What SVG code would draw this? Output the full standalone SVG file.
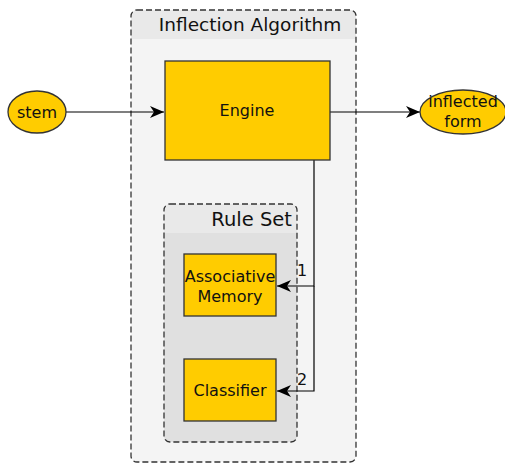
<svg xmlns="http://www.w3.org/2000/svg" width="505" height="463" viewBox="0 0 505 463">
  <style>
    .t { font-family: "DejaVu Sans", sans-serif; fill: #111; text-anchor: middle; }
    .node { fill: #ffcc00; stroke: #333; stroke-width: 1.3; }
    .edge { fill: none; stroke: #000; stroke-width: 1.2; }
    .cl { fill: none; stroke: #333; stroke-width: 1.3; stroke-dasharray: 6 3; }
  </style>
  <defs>
    <marker id="arr" markerWidth="16" markerHeight="12" refX="14" refY="6" orient="auto" markerUnits="userSpaceOnUse">
      <path d="M0,0 L14,6 L0,12 L4,6 Z" fill="#000"/>
    </marker>
    <clipPath id="outerClip"><rect x="131" y="10" width="225" height="452" rx="6"/></clipPath>
    <clipPath id="ruleClip"><rect x="164" y="204" width="133" height="238" rx="6"/></clipPath>
  </defs>

  <!-- cluster: Inflection Algorithm -->
  <g id="cluster-inflection">
    <g clip-path="url(#outerClip)">
      <rect x="131" y="10" width="225" height="452" fill="#f4f4f4"/>
      <rect x="131" y="10" width="225" height="29" fill="#e9e9e9"/>
    </g>
    <rect class="cl" x="131" y="10" width="225" height="452" rx="6"/>
    <text class="t" x="250" y="31" font-size="18.5">Inflection Algorithm</text>
  </g>

  <!-- cluster: Rule Set -->
  <g id="cluster-ruleset">
    <g clip-path="url(#ruleClip)">
      <rect x="164" y="204" width="133" height="238" fill="#e0e0e0"/>
      <rect x="164" y="204" width="133" height="29" fill="#e9e9e9"/>
    </g>
    <rect class="cl" x="164" y="204" width="133" height="238" rx="6"/>
    <text class="t" x="292" y="226" font-size="19.5" style="text-anchor:end">Rule Set</text>
  </g>

  <!-- connectors -->
  <g id="edges">
    <line class="edge" x1="66" y1="112" x2="164" y2="112" marker-end="url(#arr)"/>
    <line class="edge" x1="330" y1="112" x2="420" y2="112" marker-end="url(#arr)"/>
    <polyline class="edge" points="314,160 314,286 277,286" marker-end="url(#arr)"/>
    <polyline class="edge" points="314,286 314,391 277,391" marker-end="url(#arr)"/>
    <text class="t" x="302" y="276" font-size="16">1</text>
    <text class="t" x="302" y="385" font-size="16">2</text>
  </g>

  <g id="stem">
    <ellipse class="node" cx="37" cy="112" rx="29" ry="21"/>
    <text class="t" x="37" y="118" font-size="16">stem</text>
  </g>

  <g id="engine">
    <rect class="node" x="165" y="61" width="165" height="99"/>
    <text class="t" x="247" y="116" font-size="16">Engine</text>
  </g>

  <g id="inflected-form">
    <ellipse class="node" cx="463" cy="112" rx="43" ry="22"/>
    <text class="t" x="463" y="107" font-size="16">inflected</text>
    <text class="t" x="463" y="127" font-size="16">form</text>
  </g>

  <g id="associative-memory">
    <rect class="node" x="184" y="254" width="92" height="62"/>
    <text class="t" x="230" y="282" font-size="16">Associative</text>
    <text class="t" x="230" y="302" font-size="16">Memory</text>
  </g>

  <g id="classifier">
    <rect class="node" x="184" y="359" width="92" height="62"/>
    <text class="t" x="230" y="396" font-size="16">Classifier</text>
  </g>
</svg>
